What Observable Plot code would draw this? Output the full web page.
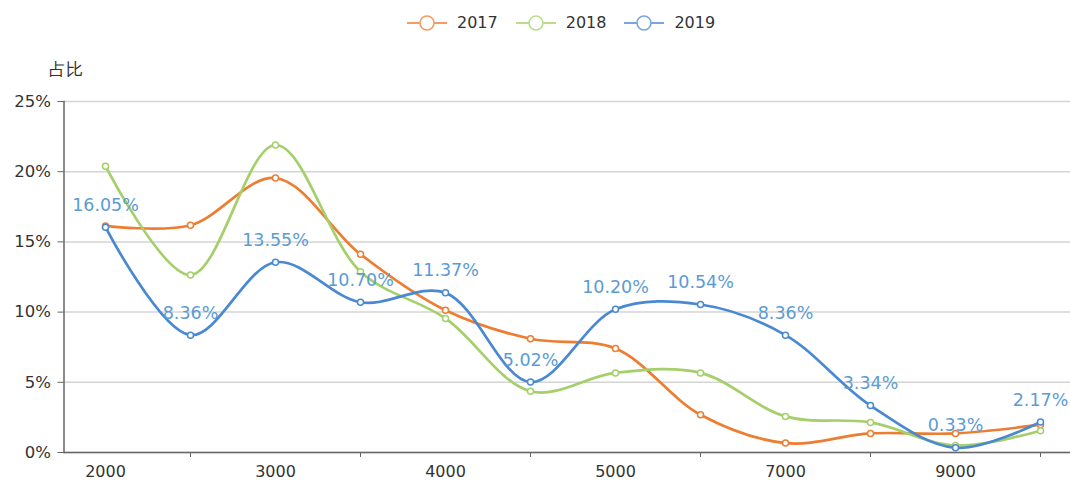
<!DOCTYPE html>
<html><head><meta charset="utf-8">
<script src="https://cdn.jsdelivr.net/npm/d3@7"></script>
<script src="https://cdn.jsdelivr.net/npm/@observablehq/plot@0.6"></script>
<style>
body{margin:0;background:#fff;font-family:"DejaVu Sans",sans-serif;}
#legend{height:45px;display:flex;align-items:center;padding-left:407px;box-sizing:border-box;font-size:16px;color:#333;}
.item{display:flex;align-items:center;margin-right:18px;}
.item svg{margin-right:10px;display:block}
</style></head><body>
<div id="legend"></div>
<div id="chart"></div>
<script>
const categories = ["2000","2500","3000","3500","4000","4500","5000","6000","7000","8000","9000","10000"];
const series = ["2017","2018","2019"];
const values2017 = [16.14,16.19,19.55,14.12,10.13,8.10,7.40,2.69,0.67,1.36,1.36,1.98];
const values2018 = [20.38,12.64,21.90,12.88,9.55,4.36,5.67,5.67,2.57,2.14,0.50,1.55];
const values2019 = [16.05,8.36,13.55,10.70,11.37,5.02,10.20,10.54,8.36,3.34,0.33,2.17];
const yTicks = [0,5,10,15,20,25];
const yLabel = "占比";
const colors = ["#ED7D31","#A5CF6A","#4A89D2"];
const labelColor = "#5B9BD5";

const allValues = [values2017, values2018, values2019];
const data = series.flatMap((s,i)=>allValues[i].map((v,j)=>({series:s, cat:categories[j], value:v})));

// legend
const legend = document.getElementById("legend");
series.forEach((s,i)=>{
  const it = document.createElement("div");
  it.className="item";
  it.innerHTML = `<svg width="40" height="18"><g opacity="0.75"><line x1="0" x2="40" y1="9" y2="9" stroke="${colors[i]}" stroke-width="2"/><circle cx="20" cy="9" r="7" fill="#fff" stroke="${colors[i]}" stroke-width="1.6"/></g></svg><span>${s}</span>`;
  legend.appendChild(it);
});

const plot = Plot.plot({
  width:1070, height:436,
  marginLeft:63.5, marginRight:0, marginTop:56, marginBottom:29,
  style:{fontFamily:"DejaVu Sans, sans-serif", fontSize:"16px", color:"#333", background:"#fff", overflow:"visible"},
  x:{type:"point", domain:categories, padding:0.417, align:0.585},
  y:{domain:[0,25]},
  color:{domain:series, range:colors},
  marks:[
    Plot.gridY(yTicks,{stroke:"#d4d4d4", strokeOpacity:1, strokeWidth:1.5}),
    Plot.axisY(yTicks,{tickFormat:d=>d+"%", tickSize:6, tickPadding:7, stroke:"#666", label:null, fontSize:16.5, fill:"#333"}),
    Plot.frame({anchor:"left", stroke:"#666", strokeWidth:1.5}),
    Plot.ruleY([0],{stroke:"#666", strokeWidth:1.5}),
    Plot.axisX(categories.filter((d,i)=>i%2===1),{tickSize:5, tickFormat:()=>"", stroke:"#666", label:null}),
    Plot.axisX(categories.filter((d,i)=>i%2===0),{tickSize:0, tickPadding:13, label:null, fontSize:16, fill:"#333"}),
    Plot.line(data,{x:"cat", y:"value", stroke:"series", z:"series", curve:"catmull-rom", strokeWidth:2.7}),
    Plot.dot(data,{x:"cat", y:"value", stroke:"series", fill:"white", r:3, strokeWidth:1.5}),
    Plot.text(data.filter(d=>d.series==="2019"),{x:"cat", y:"value", text:d=>d.value.toFixed(2)+"%", dy:-22, fill:labelColor, fontSize:17.5}),
    Plot.text([yLabel],{frameAnchor:"top-left", text:d=>d, textAnchor:"start", lineAnchor:"middle", dx:-15.5, dy:-32, fontSize:17, fill:"#333"})
  ]
});
document.getElementById("chart").appendChild(plot);
</script>
</body></html>
